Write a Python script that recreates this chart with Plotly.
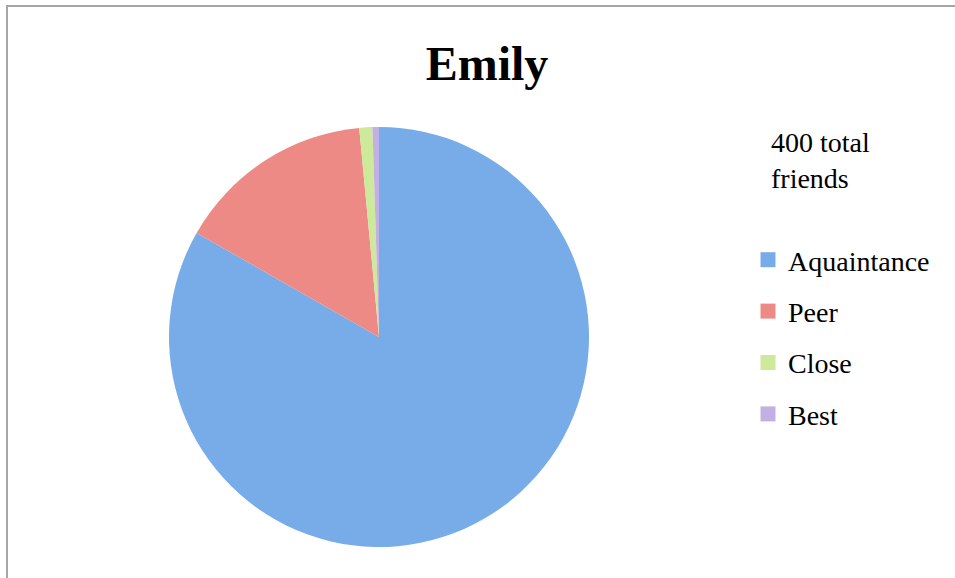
import plotly.graph_objects as go

labels = ["Aquaintance", "Peer", "Close", "Best"]
values = [333, 61, 4, 2]
colors = ["#78ace9", "#ee8a85", "#cde99a", "#c2b0e2"]
title_text = "Emily"
note_text = "400 total<br>friends"

W, H = 955, 578
FONT = "Liberation Serif"
fig = go.Figure()
fig.add_trace(go.Pie(
    labels=labels, values=values, sort=False, direction="clockwise", rotation=0,
    marker=dict(colors=colors, line=dict(width=0)),
    textinfo="none", hoverinfo="label+value", showlegend=False,
    domain=dict(x=[169 / W, 589 / W], y=[1 - 547 / H, 1 - 127 / H]),
))

# legend entries (one per category, grouped so that a gap can separate them)
for lab, col in zip(labels, colors):
    fig.add_trace(go.Scatter(
        x=[None], y=[None], mode="markers", name=lab, legendgroup=lab,
        marker=dict(symbol="square", size=15, color=col),
        hoverinfo="skip",
    ))

fig.update_layout(
    width=W, height=H,
    margin=dict(l=0, r=0, t=0, b=0),
    paper_bgcolor="white", plot_bgcolor="white",
    font=dict(family=FONT, color="black"),
    xaxis=dict(visible=False), yaxis=dict(visible=False),
    title=dict(text="<b>" + title_text + "</b>", x=487 / W, xanchor="center",
               y=1 - 63 / H, yanchor="middle",
               font=dict(size=48, family=FONT, color="black")),
    legend=dict(
        x=748 / W, xanchor="left", y=1 - 235 / H, yanchor="top",
        font=dict(size=28, family=FONT, color="black"),
        traceorder="grouped", tracegroupgap=12,
        bgcolor="rgba(0,0,0,0)",
    ),
    annotations=[dict(
        text=note_text, x=769 / W, y=1 - 161 / H, xref="paper", yref="paper",
        xanchor="left", yanchor="middle", align="left", showarrow=False,
        font=dict(size=28, family=FONT, color="black"),
    )],
    shapes=[
        dict(type="line", xref="paper", yref="paper", x0=7 / W, x1=7 / W, y0=0, y1=1 - 5 / H,
             line=dict(color="#a6a6a6", width=2)),
        dict(type="line", xref="paper", yref="paper", x0=7 / W, x1=1, y0=1 - 6 / H, y1=1 - 6 / H,
             line=dict(color="#a6a6a6", width=2)),
    ],
)

fig.write_html("out.html", config={"displayModeBar": False},
               post_script="document.body.style.margin='0';")
